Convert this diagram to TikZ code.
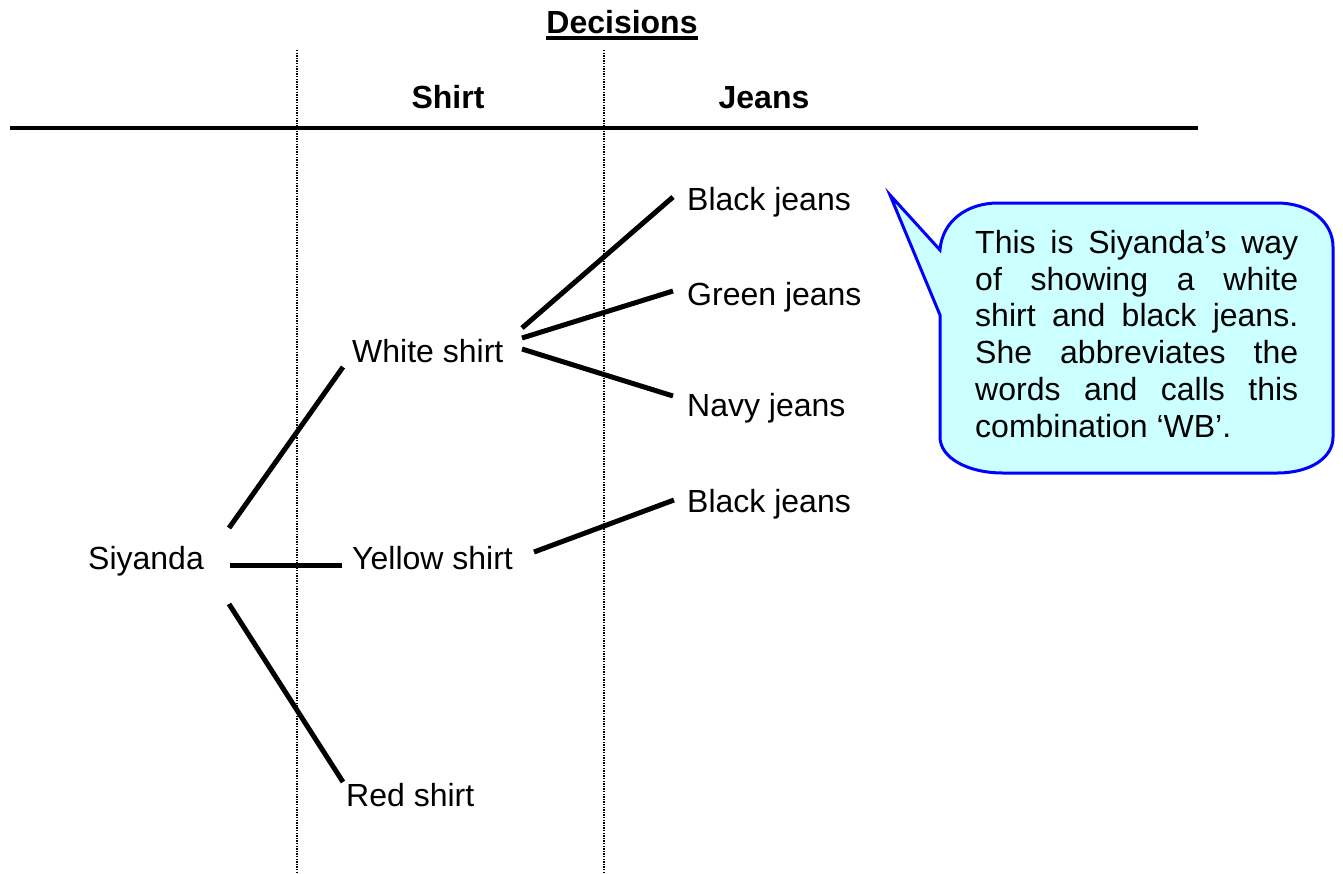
\documentclass[tikz,border=0pt]{standalone}
\usepackage{fontspec}
\setmainfont{Liberation Sans}
\usetikzlibrary{calc}
\definecolor{calloutfill}{RGB}{204,255,255}
\definecolor{calloutdraw}{RGB}{0,0,255}
\begin{document}
\begin{tikzpicture}[x=1pt,y=-1pt,
  lbl/.style={anchor=base west, inner sep=0pt, font=\fontsize{32}{38}\selectfont},
  head/.style={anchor=base, inner sep=0pt, font=\fontsize{32}{38}\selectfont\bfseries},
  branch/.style={line width=5pt, line cap=butt},
  guide/.style={line width=1.2pt, dash pattern=on 1.3pt off 1.3pt},
  rule/.style={line width=3.5pt},
  callout/.style={fill=calloutfill, draw=calloutdraw, line width=3pt, line join=miter}]
\useasboundingbox (0,0) rectangle (1343,873);

% guides
\coordinate (g1t) at (297,50);
\coordinate (g1b) at (297,873);
\coordinate (g2t) at (604,50);
\coordinate (g2b) at (604,873);
\draw[guide] (g1t) -- (g1b);
\draw[guide] (g2t) -- (g2b);

% headings
\node[head] (dec) at (622,33) {Decisions};
\draw[rule] ($(dec.base west)+(0,5)$) -- ($(dec.base east)+(0,5)$);
\node[head] (shirt) at (448,108) {Shirt};
\node[head] (jeans) at (764,108) {Jeans};
\coordinate (rl) at (10,128);
\coordinate (rr) at (1198,128);
\draw[rule] (rl) -- (rr);

% labels
\node[lbl] (siy) at (88,569) {Siyanda};
\node[lbl] (white) at (352,362) {White shirt};
\node[lbl] (yellow) at (352,569) {Yellow shirt};
\node[lbl] (red) at (346,806) {Red shirt};
\node[lbl] (bj1) at (687,210) {Black jeans};
\node[lbl] (gj) at (687,305) {Green jeans};
\node[lbl] (nj) at (687,416) {Navy jeans};
\node[lbl] (bj2) at (687,512) {Black jeans};

% connector end points
\coordinate (s1) at (229,528);
\coordinate (w0) at (343,367);
\coordinate (s2) at (230,565);
\coordinate (y0) at (342,565);
\coordinate (s3) at (229,604);
\coordinate (r0) at (343,782);
\coordinate (w1) at (522,328);
\coordinate (b1) at (673,197);
\coordinate (w2) at (522,338);
\coordinate (g1) at (673,291);
\coordinate (w3) at (522,349);
\coordinate (n1) at (673,396);
\coordinate (y1) at (534,552);
\coordinate (b2) at (674,500);

\draw[branch] (s1) -- (w0);
\draw[branch] (s2) -- (y0);
\draw[branch] (s3) -- (r0);
\draw[branch] (w1) -- (b1);
\draw[branch] (w2) -- (g1);
\draw[branch] (w3) -- (n1);
\draw[branch] (y1) -- (b2);

% callout
\coordinate (tip) at (890,195);
\draw[callout] (tip) -- (940,250)
  .. controls (942,222) and (966,203) .. (998,203)
  -- (1277,203)
  .. controls (1310,203) and (1333,222) .. (1333,247)
  -- (1333,437)
  .. controls (1333,458) and (1310,473) .. (1277,473)
  -- (1003,473)
  .. controls (968,473) and (940,458) .. (940,437)
  -- (940,315) -- cycle;
\node[anchor=north west, inner sep=0pt, text width=323pt, align=justify,
  font=\fontsize{32}{36.8}\selectfont] (note) at (975,230)
  {This is Siyanda’s way\linebreak of showing a white\linebreak shirt and black jeans.\linebreak She abbreviates the\linebreak words and calls this\linebreak combination ‘WB’.};
\end{tikzpicture}
\end{document}
